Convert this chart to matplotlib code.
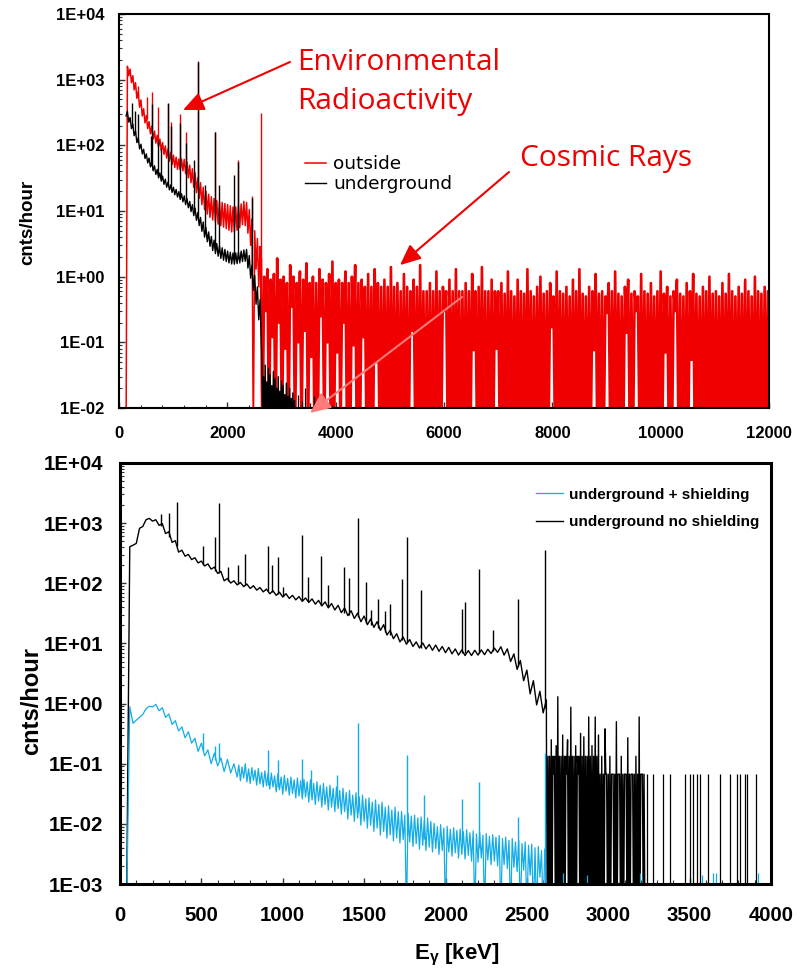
import numpy as np
import matplotlib
matplotlib.use("Agg")
import matplotlib.pyplot as plt
from matplotlib.ticker import (FixedLocator, FixedFormatter, MultipleLocator,
                               LogLocator, NullFormatter)

plt.rcParams["font.family"] = ["Liberation Sans", "DejaVu Sans"]
plt.rcParams["font.weight"] = "bold"
plt.rcParams["mathtext.fontset"] = "custom"
plt.rcParams["mathtext.rm"] = "Liberation Sans:bold"
plt.rcParams["mathtext.it"] = "Liberation Sans:bold"
plt.rcParams["mathtext.bf"] = "Liberation Sans:bold"
plt.rcParams["path.simplify"] = False   # keep every channel of the dense spectra

RED = "#f00000"
BLUE = "#12ace8"
W, H = 808, 972

# ======================= upper panel: outside vs underground =======================
top_xticks = [0, 2000, 4000, 6000, 8000, 10000, 12000]
top_xticklabels = ["0", "2000", "4000", "6000", "8000", "10000", "12000"]
top_yticks = [1e-2, 1e-1, 1e0, 1e1, 1e2, 1e3, 1e4]
top_yticklabels = ["1E-02", "1E-01", "1E+00", "1E+01", "1E+02", "1E+03", "1E+04"]
TOP_FLOOR = 3e-3          # level used for empty channels (below the axis)

# outside spectrum: low/high edge of the noisy continuum, 50 keV bins from 130 keV
outside_start, outside_step = 130, 50
outside_lo = [0, 1150, 900, 700, 520, 380, 280, 220, 180, 150,
              125, 108, 95, 83, 73, 64, 57, 51, 46, 43,
              42, 41, 37, 32, 27, 23, 19, 15.5, 12.5, 10.5,
              9, 8, 7.3, 6.8, 6.3, 6, 5.7, 5.4, 5.1, 4.8,
              4.8, 5.1, 5.6, 6.2, 6, 4.6, 3.0, 0, 1.3, 0.7]
outside_hi = [1600, 1450, 1150, 900, 660, 490, 360, 285, 230, 195,
              165, 142, 125, 110, 98, 88, 79, 71, 66, 62,
              62, 61, 56, 50, 44, 38, 32, 27, 23, 20,
              18, 16.5, 15.5, 14.5, 14, 13.5, 13, 12.5, 12, 11.5,
              11.5, 12, 12.8, 14, 13.5, 10.5, 7.5, 5, 3.8, 2.8]

# outside, cosmic-ray continuum above 2.6 MeV: channel maxima every 60 keV
cosmic_start, cosmic_step = 2620, 60
cosmic_max = [1.8, 1.0, 1.3, 0.9, 1.1, 1.9, 0.9, 1.0, 0.8, 1.5,
              1.0, 0.8, 1.2, 0.9, 1.6, 0.8, 1.0, 0.8, 1.3, 0.9,
              0.8, 1.1, 1.7, 0.8, 0.9, 0.8, 1.2, 0.8, 1.0, 1.5,
              0.8, 0.9,
              0.7, 1.1, 0.7, 1.3, 0.8, 0.7, 0.9, 0.7, 1.4, 0.7,
              0.8, 0.6, 1.1, 0.7, 0.6, 0.9, 0.7, 1.5, 0.6, 0.6,
              0.8, 0.6, 1.2, 0.6, 0.7, 0.6, 0.9, 0.6, 1.3, 0.6,
              0.6, 0.8, 0.6, 1.1, 0.6, 0.7, 1.4, 0.6, 0.6, 0.9,
              0.6, 0.6,
              0.8, 0.55, 1.2, 0.6, 0.5, 0.9, 0.6, 0.55, 1.3, 0.6,
              0.5, 0.7, 1.0, 0.55, 0.6, 0.8, 0.5, 1.2, 0.6, 0.55,
              0.7, 0.5, 0.9, 0.6, 1.3, 0.55, 0.5, 0.7, 0.6, 1.1,
              0.55, 0.6, 0.5, 0.8, 0.6, 1.2, 0.55, 0.5, 0.7, 0.9,
              0.55, 0.6, 0.5, 1.1, 0.6, 0.55, 0.8, 0.5, 0.6, 1.2,
              0.55, 0.7, 0.5, 0.6, 0.9, 0.55, 0.5, 0.8, 0.6, 1.1,
              0.55, 0.5, 0.7, 0.6, 1.0, 0.55, 0.6, 0.5, 0.8, 0.55,
              1.1, 0.6, 0.5, 0.7, 0.55, 0.9, 0.6, 0.5, 1.0, 0.6,
              0.55, 0.7, 0.6]
# channels whose minimum stays above the floor: (energy, lowest count rate)
cosmic_min_raised = [(2690, 0.3), (2810, 0.12), (2930, 0.2), (3050, 0.08),
                     (3170, 0.35), (3290, 0.1), (3410, 0.15), (3530, 0.06),
                     (3710, 0.25), (3830, 0.1), (4010, 0.07), (4130, 0.2),
                     (4310, 0.09), (4490, 0.12), (4730, 0.05), (5433, 0.15),
                     (5987, 0.3), (6530, 0.076), (6973, 0.08), (8019, 0.17),
                     (8745, 0.076), (8985, 0.28), (9391, 0.14), (9576, 0.3),
                     (10111, 0.07), (10296, 0.3), (10541, 0.054)]

# outside gamma lines: (energy keV, continuum, peak top)
outside_peaks = [(352, 560, 800), (511, 250, 550), (609, 170, 660), (727, 110, 390),
                 (911, 72, 430), (969, 66, 230), (1120, 52, 300), (1238, 46, 160),
                 (1460, 25, 1900), (1764, 10.5, 160), (2204, 8, 60), (2448, 5, 17),
                 (2614, 0, 307)]

# underground spectrum: low/high edge, 50 keV bins from 130 keV
underground_start, underground_step = 130, 50
underground_lo = [280, 225, 180, 140, 110, 88, 74, 63, 54, 47,
                  41, 36, 32, 28.5, 25.5, 23, 21, 19.2, 17.7, 16.3,
                  15, 13.8, 12.5, 11.2, 9.8, 8.5, 7.2, 6, 4.9, 4.0,
                  3.4, 2.9, 2.5, 2.25, 2.05, 1.9, 1.78, 1.7, 1.62, 1.56,
                  1.55, 1.58, 1.62, 1.7, 1.72, 1.35, 0.95, 0.62, 0.38, 0.22]
underground_hi = [330, 265, 210, 165, 130, 104, 87, 74, 64, 56,
                  49, 43, 38, 34, 30.5, 27.5, 25, 23, 21.3, 19.7,
                  18.3, 17, 15.5, 14, 12.5, 11, 9.5, 8, 6.8, 5.6,
                  4.8, 4.1, 3.6, 3.2, 2.95, 2.75, 2.6, 2.45, 2.35, 2.3,
                  2.3, 2.35, 2.45, 2.55, 2.6, 2.1, 1.5, 1.05, 0.7, 0.45]
underground_peaks = [(238, 195, 440), (295, 150, 330), (352, 112, 300), (583, 50, 140),
                     (609, 48, 420), (727, 35, 120), (768, 32, 90), (911, 25, 440),
                     (969, 22, 200), (1120, 17, 216), (1238, 14, 110), (1377, 9.5, 60),
                     (1460, 7.5, 1880), (1588, 4.5, 25), (1764, 2.6, 160), (1847, 2.4, 25),
                     (2118, 1.9, 35), (2204, 1.9, 56), (2448, 1.2, 16)]
# underground counts just above the 2614 keV line, 30 keV channels
underground_tail_start, underground_tail_step = 2640, 30
underground_tail = [0.048, 0.03, 0.045, 0.025, 0.04, 0.032, 0.022, 0.036, 0.028, 0.02,
                    0.03, 0.018, 0.026, 0.022, 0.016, 0.024, 0.015, 0.02, 0.014, 0.017,
                    0.013]
underground_sparse_E = [3300, 3370, 3430, 3520, 3600, 3690, 3800, 3930]
underground_sparse_cps = [0.016, 0.013, 0.02, 0.012, 0.015, 0.012, 0.014, 0.011]

# ======================= lower panel: underground, with / without shield =======================
bot_xticks = [0, 500, 1000, 1500, 2000, 2500, 3000, 3500, 4000]
bot_xticklabels = ["0", "500", "1000", "1500", "2000", "2500", "3000", "3500", "4000"]
bot_yticks = [1e-3, 1e-2, 1e-1, 1e0, 1e1, 1e2, 1e3, 1e4]
bot_yticklabels = ["1E-03", "1E-02", "1E-01", "1E+00", "1E+01", "1E+02", "1E+03", "1E+04"]
BOT_FLOOR = 3e-4

# no shielding: low/high edge, 40 keV bins from 40 keV
noshield_start, noshield_step = 40, 40
noshield_lo = [0, 430, 820, 1140, 1080, 920, 670, 480, 330, 282,
               248, 218, 194, 172, 146, 110, 101, 94, 88, 82,
               77, 72, 67, 63, 59, 56, 53, 50, 48, 45,
               42, 39, 36, 32.5, 29, 26, 23, 20.5, 18.5, 16.5,
               13.8, 12, 10.6, 9.7, 8.9, 8.4, 8.1, 7.7, 7.4, 7.0,
               6.7, 6.4, 6.3, 6.3, 6.4, 6.5, 6.8, 7.1, 6.4, 5.0,
               3.7, 2.4, 1.45, 0.95, 0.7]
noshield_hi = [405, 460, 880, 1200, 1140, 980, 720, 510, 355, 302,
               266, 234, 210, 186, 158, 120, 110, 103, 97, 91,
               85, 80, 75, 71, 67, 63, 60, 57, 55, 52,
               49, 46, 43, 39, 35, 32, 28.5, 25.5, 23, 20.5,
               16.5, 14.5, 12.8, 11.6, 10.6, 10.2, 9.6, 9.4, 8.9, 8.6,
               8.1, 7.8, 7.6, 7.7, 7.8, 8.0, 8.4, 8.8, 8.1, 6.7,
               5.2, 3.6, 2.4, 1.6, 1.15]
noshield_peaks = [(250, 900, 1420), (303, 580, 1490), (352, 420, 2250), (511, 205, 417),
                  (583, 160, 596), (609, 150, 2140), (665, 108, 184), (727, 98, 201),
                  (768, 92, 307), (911, 74, 422), (934, 71, 200), (969, 66, 277),
                  (1001, 62, 88), (1120, 52, 635), (1155, 50, 126), (1238, 44, 288),
                  (1281, 41, 94), (1377, 32, 189), (1408, 30, 121), (1460, 27, 1200),
                  (1509, 22, 104), (1540, 20, 36), (1588, 18, 54), (1630, 15.5, 34),
                  (1661, 14, 46), (1730, 11.2, 116), (1764, 10.4, 580), (1847, 8.5, 77),
                  (2104, 7.0, 38), (2118, 7.0, 48), (2204, 7.0, 171), (2293, 7.5, 17),
                  (2448, 4.2, 54), (2614, 0.85, 357)]
# no shielding above 2614 keV: single/double counts, 10 keV channels
noshield_tail_start, noshield_tail_step = 2620, 10
noshield_tail = [0.35, 0.133, 0.133, 0.25, 0.133, 0.133, 0.2, 1.3, 0.133, 0.133,
                 0.3, 0.133, 0.133, 0.25, 0.133, 0.87, 0.133, 0.133, 0.2, 0.133,
                 0.133, 0.32, 0.133, 0.28, 0.133, 0.133, 0.6, 0.133, 0.2, 0.133,
                 0.6, 0.133, 0.3, 0.067, 0.133, 0.067, 0.38, 0.067, 0.067, 0.133,
                 0.067, 0.067, 0.067, 0.5, 0.067, 0.067, 0.133, 0.067, 0.067, 0.067,
                 0.27, 0.067, 0.067, 0.067, 0.067, 0.133, 0.067, 0.6, 0.067, 0.067,
                 0.067]
noshield_tail_min_raised = [(2665, 0.067), (2745, 0.067), (2815, 0.067), (2985, 0.067),
                            (3025, 0.067), (3065, 0.067), (3105, 0.067), (3145, 0.067),
                            (3205, 0.067)]
noshield_sparse_E = [3236, 3277, 3338, 3379, 3472, 3502, 3523, 3543, 3564, 3615,
                     3687, 3748, 3789, 3809, 3840, 3851, 3908]
noshield_sparse_cps = [0.067] * len(noshield_sparse_E)

# with shielding, low energies: low/high edge, 40 keV bins from 40 keV
shield_a_start, shield_a_step = 40, 40
shield_a_lo = [0, 0.47, 0.59, 0.82, 0.88, 0.76, 0.59, 0.45, 0.35, 0.27,
               0.22, 0.16, 0.135, 0.1, 0.092, 0.074, 0.07]
shield_a_hi = [0.89, 0.53, 0.66, 0.9, 0.97, 0.85, 0.67, 0.52, 0.41, 0.34,
               0.265, 0.22, 0.17, 0.15, 0.125, 0.118, 0.1]
# with shielding, 720-2600 keV: low/high edge, 20 keV bins
shield_b_start, shield_b_step = 720, 20
shield_b_lo = [0.060, 0.052, 0.058, 0.05, 0.047, 0.053, 0.044, 0.046, 0.041, 0.043,
               0.038, 0.041, 0.034, 0.037, 0.031, 0.035, 0.03, 0.032, 0.027, 0.029,
               0.026, 0.028, 0.023, 0.025, 0.021, 0.024, 0.019, 0.021, 0.017, 0.019,
               0.016, 0.018, 0.0145, 0.016, 0.012, 0.014, 0.011, 0.0125, 0.0095, 0.011,
               0.0085, 0.0095, 0.0075, 0.0085, 0.0065, 0.0075, 0.0058, 0.0066, 0.0052, 0.0058,
               0.0048, 0.0055, 0, 0.005, 0.0042, 0.0047, 0.0038, 0.0044, 0.0036, 0.0041,
               0.0034, 0.0039, 0.0031, 0.0036, 0, 0.0034, 0.0029, 0.0033, 0.0027, 0.0031,
               0.0026, 0.003, 0.0024, 0, 0.0023, 0.0027, 0, 0.0025, 0.0021, 0.0024,
               0.002, 0, 0.0021, 0.0018, 0, 0.0019, 0.0016, 0, 0.0017, 0,
               0.0014, 0, 0, 0.0013, 0]
shield_b_hi = [0.095, 0.088, 0.1, 0.082, 0.086, 0.078, 0.083, 0.072, 0.076, 0.07,
               0.07, 0.063, 0.068, 0.06, 0.064, 0.057, 0.06, 0.054, 0.058, 0.052,
               0.055, 0.05, 0.054, 0.047, 0.05, 0.044, 0.047, 0.041, 0.044, 0.039,
               0.041, 0.036, 0.039, 0.033, 0.036, 0.03, 0.033, 0.028, 0.03, 0.026,
               0.027, 0.023, 0.025, 0.021, 0.023, 0.019, 0.02, 0.017, 0.019, 0.016,
               0.016, 0.014, 0.015, 0.0135, 0.014, 0.0125, 0.013, 0.0115, 0.0125, 0.011,
               0.0102, 0.009, 0.0097, 0.0085, 0.0091, 0.0081, 0.0086, 0.0078, 0.0082, 0.0074,
               0.008, 0.0071, 0.0076, 0.0068, 0.0073, 0.0065, 0.0069, 0.0062, 0.0066, 0.006,
               0.0064, 0.0057, 0.006, 0.0053, 0.0057, 0.005, 0.0053, 0.0047, 0.005, 0.0044,
               0.0046, 0.004, 0.0042, 0.0036, 0.0038]
shield_peaks = [(511, 0.16, 0.32), (583, 0.115, 0.2), (609, 0.11, 0.22), (911, 0.045, 0.17),
                (969, 0.041, 0.115), (1120, 0.031, 0.12), (1173, 0.029, 0.08),
                (1335, 0.021, 0.064), (1460, 0.016, 0.47), (1764, 0.0065, 0.14),
                (1868, 0.0055, 0.03), (2100, 0.0044, 0.026), (2204, 0.0039, 0.05),
                (2447, 0.0026, 0.013), (2614, 0, 0.15)]
shield_sparse_E = [2724, 2867, 3195, 3574, 3646, 3662, 3922]
shield_sparse_cps = [0.0015, 0.0014, 0.0015, 0.0014, 0.0015, 0.0015, 0.0015]


# ----------------------------------------------------------------------------------
def band(start, step, lo, hi, floor):
    """Alternate between the low and high edge of a noisy continuum."""
    e = start + step * np.arange(len(lo))
    x = np.column_stack([e, e + step / 2]).ravel()
    y = np.column_stack([lo, hi]).ravel()
    return x, np.where(y <= 0, floor, y)


def channels(start, step, tops, floor, raised=()):
    """Channel maxima separated by minima that sit at the floor (or a raised level)."""
    e = start + step * np.arange(len(tops))
    mins = np.full(len(tops), floor)
    for eg, level in raised:
        mins[np.argmin(np.abs(e + step / 2 - eg))] = level
    x = np.column_stack([e, e + step / 2]).ravel()
    y = np.column_stack([tops, mins]).ravel()
    return x, y


def draw_peaks(ax, peaks, floor, **kw):
    e, base, top = (np.array(v, dtype=float) for v in zip(*peaks))
    ax.vlines(e, np.where(base <= 0, floor, base), top, **kw)


def style_axes(ax, xticks, xlabels, yticks, ylabels, xminor, spine_w,
               labelsize, xpad, ypad, majlen, minlen):
    ax.set_yscale("log")
    ax.xaxis.set_major_locator(FixedLocator(xticks))
    ax.xaxis.set_major_formatter(FixedFormatter(xlabels))
    ax.xaxis.set_minor_locator(MultipleLocator(xminor))
    ax.yaxis.set_major_locator(FixedLocator(yticks))
    ax.yaxis.set_major_formatter(FixedFormatter(ylabels))
    ax.yaxis.set_minor_locator(LogLocator(base=10, subs=np.arange(2, 10)))
    ax.yaxis.set_minor_formatter(NullFormatter())
    ax.tick_params(which="both", direction="in", top=False, right=False, color="#333333")
    ax.tick_params(which="major", length=majlen, width=1.0, labelsize=labelsize)
    ax.tick_params(which="minor", length=minlen, width=0.8)
    ax.tick_params(axis="x", which="major", pad=xpad)
    ax.tick_params(axis="y", which="major", pad=ypad)
    for s in ax.spines.values():
        s.set_linewidth(spine_w)


fig = plt.figure(figsize=(W / 100, H / 100), dpi=100)

# ---------------------------- upper panel ----------------------------
ax1 = fig.add_axes([119 / W, 1 - 408 / H, 650 / W, 394 / H])
x_band, y_band = band(outside_start, outside_step, outside_lo, outside_hi, TOP_FLOOR)
x_cos, y_cos = channels(cosmic_start, cosmic_step, cosmic_max, TOP_FLOOR, cosmic_min_raised)
line_out, = ax1.plot(x_band, y_band, color=RED, lw=1.1, label="outside")
# the cosmic-ray channels are packed tightly; a wider stroke renders them as a solid band
ax1.plot(np.concatenate([x_band[-1:], x_cos]), np.concatenate([y_band[-1:], y_cos]),
         color=RED, lw=1.9)
draw_peaks(ax1, outside_peaks, TOP_FLOOR, color=RED, lw=1.0)

x_ug, y_ug = band(underground_start, underground_step, underground_lo, underground_hi, TOP_FLOOR)
x_ugt, y_ugt = channels(underground_tail_start, underground_tail_step, underground_tail, TOP_FLOOR)
line_ug, = ax1.plot(np.concatenate([x_ug, x_ugt]), np.concatenate([y_ug, y_ugt]),
                    color="black", lw=1.0, label="underground")
draw_peaks(ax1, underground_peaks, TOP_FLOOR, color="black", lw=1.0)
ax1.vlines(underground_sparse_E, TOP_FLOOR, underground_sparse_cps, color="black", lw=0.9)

style_axes(ax1, top_xticks, top_xticklabels, top_yticks, top_yticklabels, 400, 1.5,
           12, 13, 10.5, 4, 2.5)
ax1.set_xlim(0, 12000)
ax1.set_ylim(1e-2, 1e4)

ax1.legend(handles=[line_out, line_ug], loc="upper left",
           bbox_to_anchor=((296 - 119) / 650, (408 - 146) / 394),
           frameon=False, borderpad=0, handlelength=1.15, handletextpad=0.35,
           labelspacing=0.12,
           prop={"family": "DejaVu Sans", "weight": "normal", "size": 13.3})

fig.text(28 / W, 1 - 222 / H, "cnts/hour", rotation=90, ha="center", va="center",
         fontsize=13.5, fontweight="bold")

# red call-outs
ann_font = {"family": "Open Sans", "weight": "normal", "size": 21.5, "color": RED}
fig.text(297 / W, 1 - 70 / H, "Environmental", ha="left", va="baseline", **ann_font)
fig.text(297 / W, 1 - 109 / H, "Radioactivity", ha="left", va="baseline", **ann_font)
fig.text(520 / W, 1 - 166 / H, "Cosmic Rays", ha="left", va="baseline", **ann_font)
arrow = dict(arrowstyle="-|>,head_length=0.45,head_width=0.2", color=RED, lw=1.5,
             shrinkA=0, shrinkB=0, mutation_scale=28)
ax1.annotate("", xy=(1181, 345), xycoords="data", xytext=(290 / W, 1 - 62 / H),
             textcoords="figure fraction", arrowprops=arrow, annotation_clip=False)
ax1.annotate("", xy=(5187, 1.5), xycoords="data", xytext=(509 / W, 1 - 172 / H),
             textcoords="figure fraction", arrowprops=arrow, annotation_clip=False)
arrow_pale = dict(arrow, color="#ff7a7a")
ax1.annotate("", xy=(3526, 0.0084), xycoords="data", xytext=(462 / W, 1 - 297 / H),
             textcoords="figure fraction", arrowprops=arrow_pale, annotation_clip=False)

# ---------------------------- lower panel ----------------------------
ax2 = fig.add_axes([120 / W, 1 - 884 / H, 651 / W, 421 / H])
x_ns, y_ns = band(noshield_start, noshield_step, noshield_lo, noshield_hi, BOT_FLOOR)
x_nst, y_nst = channels(noshield_tail_start, noshield_tail_step, noshield_tail, BOT_FLOOR,
                        noshield_tail_min_raised)
line_ns, = ax2.plot(np.concatenate([x_ns, x_nst]), np.concatenate([y_ns, y_nst]),
                    color="black", lw=1.0, label="underground no shielding")
draw_peaks(ax2, noshield_peaks, BOT_FLOOR, color="black", lw=1.0)
ax2.vlines(noshield_sparse_E, BOT_FLOOR, noshield_sparse_cps, color="black", lw=0.9)

x_sa, y_sa = band(shield_a_start, shield_a_step, shield_a_lo, shield_a_hi, BOT_FLOOR)
x_sb, y_sb = band(shield_b_start, shield_b_step, shield_b_lo, shield_b_hi, BOT_FLOOR)
line_sh, = ax2.plot(np.concatenate([x_sa, x_sb]), np.concatenate([y_sa, y_sb]),
                    color=BLUE, lw=0.9, label="underground + shielding")
draw_peaks(ax2, shield_peaks, BOT_FLOOR, color=BLUE, lw=1.0)
ax2.vlines(shield_sparse_E, BOT_FLOOR, shield_sparse_cps, color=BLUE, lw=0.9)

style_axes(ax2, bot_xticks, bot_xticklabels, bot_yticks, bot_yticklabels, 100, 2.2,
           14.7, 16, 12, 4, 3)
ax2.set_xlim(0, 4000)
ax2.set_ylim(1e-3, 1e4)

ax2.legend(handles=[line_sh, line_ns], loc="upper left",
           bbox_to_anchor=((528 - 120) / 651, (884 - 480) / 421),
           frameon=False, borderpad=0, handlelength=1.8, handletextpad=0.4,
           labelspacing=0.9, prop={"family": "Liberation Sans", "weight": "bold", "size": 11})

fig.text(32 / W, 1 - 701 / H, "cnts/hour", rotation=90, ha="center", va="center",
         fontsize=17, fontweight="bold")
fig.text(457 / W, 1 - 955 / H, r"E$_{\gamma}$ [keV]", ha="center", va="center",
         fontsize=16, fontweight="bold")

fig.savefig("out.png", dpi=100)
